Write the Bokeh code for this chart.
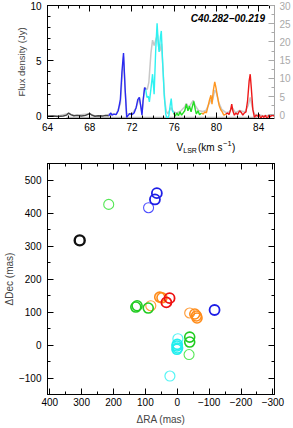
import numpy as np
from bokeh.plotting import figure
from bokeh.models import Range1d, LinearAxis, Label, FixedTicker, CustomJSTickFormatter
from bokeh.layouts import column
from bokeh.embed import file_html
from bokeh.resources import INLINE
from bokeh.core.properties import value

FONT = "Liberation Sans"
GREY = "#a9a9a9"

# ---------------- spectrum (top panel) ----------------
v_black = [64.0, 64.5, 65.0, 65.5, 65.8, 66.0, 66.2, 66.5, 66.8, 67.2, 67.6, 68.0, 68.2, 68.5, 68.8, 69.2, 69.5, 69.8]
f_black = [0.0, 0.02, -0.02, 0.03, 0.1, 0.3, 0.15, 0.05, 0.08, 0.02, 0.08, 0.25, 0.1, 0.0, 0.05, 0.02, 0.08, 0.05]

v_blue = [69.8, 70.0, 70.1, 70.3, 70.5, 70.7, 70.9, 71.05, 71.2, 71.35, 71.5, 71.65, 71.8, 72.0, 72.2, 72.4, 72.55, 72.7, 72.85, 72.95, 73.05, 73.2, 73.3]
f_blue = [0.05, 0.3, 0.1, 0.2, 0.15, 0.5, 1.5, 4.0, 5.7, 2.5, -0.1, 0.1, 0.25, 0.15, 0.3, 0.8, 1.5, 1.7, 0.8, 0.1, 1.4, 2.6, 2.4]

v_cyan = [73.3, 73.42, 73.55, 73.65, 73.8, 73.95, 74.1, 74.25, 74.38, 74.5, 74.57, 74.7, 74.78, 74.9, 75.05, 75.2, 75.35, 75.5, 75.62, 75.72, 75.82, 75.95]
f_cyan = [2.4, 1.7, 1.8, 1.3, 2.5, 3.8, 2.0, 6.0, 8.4, 6.5, 5.8, 7.2, 7.7, 5.0, 2.0, 0.2, -0.3, 0.1, 1.0, 1.6, 0.5, 0.3]

v_green = [75.95, 76.1, 76.25, 76.4, 76.55, 76.7, 76.85, 77.0, 77.15, 77.3, 77.45, 77.6, 77.75, 77.85, 78.0, 78.1, 78.25, 78.4, 78.6]
f_green = [0.3, 0.0, 0.3, 0.05, 0.4, 0.1, 0.3, 0.5, 1.1, 0.5, 0.9, 0.4, 1.0, 1.35, 0.6, 0.2, 0.5, 0.15, 0.3]

v_orange = [78.6, 78.75, 78.9, 79.05, 79.2, 79.35, 79.48, 79.58, 79.7, 79.84, 79.95, 80.1, 80.25, 80.4, 80.55, 80.7, 80.9]
f_orange = [0.3, 0.2, 0.4, 0.3, 0.9, 1.5, 1.9, 1.1, 2.3, 3.1, 2.6, 1.8, 1.0, 0.6, 0.4, 0.1, 0.2]

v_red = [80.9, 81.05, 81.2, 81.35, 81.45, 81.55, 81.7, 81.85, 82.0, 82.2, 82.35, 82.5, 82.65, 82.8, 82.95, 83.1, 83.2, 83.3, 83.45,
         83.6, 83.75, 83.9, 84.05, 84.2, 84.35, 84.5, 84.65, 84.8, 84.95, 85.1, 85.25, 85.4, 85.5]
f_red = [0.2, 0.3, 0.15, 0.6, 1.1, 0.5, 0.1, 0.3, 0.15, 0.5, 0.35, 0.1, 0.3, 0.4, 1.4, 3.2, 3.8, 2.6, 0.6,
         -0.1, 0.1, 0.0, 0.15, -0.2, 0.05, -0.1, 0.1, -0.3, 0.1, -0.05, 0.1, 0.05, 0.05]

# grey spectrum, right-hand axis (0-30)
v_grey = [64.0, 65.0, 66.0, 66.5, 68.0, 68.5, 69.5, 70.0, 70.5, 70.9, 71.2, 71.35, 71.5, 72.0, 72.4, 72.7, 72.95, 73.2,
          73.45, 73.6, 73.8, 73.95, 74.1, 74.3, 74.42, 74.55, 74.65, 74.8, 74.95, 75.1, 75.25, 75.4, 75.7, 75.9,
          76.2, 76.6, 77.0, 77.15, 77.3, 77.5, 77.8, 78.0, 78.3, 78.7, 79.0, 79.3, 79.5, 79.6, 79.85, 80.0, 80.2,
          80.5, 80.9, 81.2, 81.5, 81.8, 82.2, 82.7, 83.0, 83.2, 83.4, 83.6, 84.0, 84.5, 85.0, 85.5]
f_grey = [-0.3, -0.3, 0.4, -0.2, 0.3, -0.3, -0.2, 0.4, 0.1, 3.0, 16.0, 7.0, 0.3, 0.2, 2.0, 4.8, 0.5, 7.5,
          7.0, 9.0, 17.0, 20.5, 19.0, 21.0, 22.0, 18.0, 17.5, 19.5, 12.0, 4.0, 1.0, 0.3, 2.0, 1.0,
          0.5, 1.0, 2.2, 3.2, 2.2, 2.6, 4.0, 2.5, 1.2, 0.9, 1.2, 3.0, 4.2, 3.6, 6.8, 6.0, 3.5,
          1.5, 0.6, 0.8, 2.0, 0.6, 1.2, 0.8, 2.5, 4.8, 2.0, 0.2, 0.0, -0.3, -0.1, -0.2]

bar_v = [65.8, 83.9]
bar_f = [-0.1, -0.1]

source_name = "C40.282\u221200.219"
vel_ticks = [64, 68, 72, 76, 80, 84]
flux_ticks = [0, 5, 10]
grey_ticks = [0, 5, 10, 15, 20, 25, 30]

seg_colors = ["#454545", "#2a2af2", "#2ef2f2", "#22dd22", "#ff9620", "#ee1818"]

# ---------------- spot map (bottom panel) ----------------
black_ra, black_dec = [306], [317]
blue_ra, blue_dec = [64, 70, -117], [460, 441, 106]
lblue_ra, lblue_dec = [90], [416]
cyan_ra, cyan_dec = [0, 1, -1, 1], [2, -3, -9, -13]
lcyan_ra, lcyan_dec = [-2, 23], [19, -94]
green_ra, green_dec = [130, 126, 91, -39, -39], [115, 119, 112, 24, 9]
lgreen_ra, lgreen_dec = [215, -37], [426, -29]
orange_ra, orange_dec = [55, 48, -55, -60, -62], [145, 143, 94, 88, 82]
lorange_ra, lorange_dec = [83, -39], [119, 97]
red_ra, red_dec = [34, 24], [129, 142]

ra_ticks = [400, 300, 200, 100, 0, -100, -200, -300]
dec_ticks = [-100, 0, 100, 200, 300, 400, 500]

W = 293
LEFT, RIGHT = 41, 17


def tick_style(ax, color="black", labels=True):
    ax.axis_line_color = color
    ax.major_tick_line_color = color
    ax.minor_tick_line_color = color
    ax.major_tick_in = 6
    ax.major_tick_out = 0
    ax.minor_tick_in = 3
    ax.minor_tick_out = 0
    ax.axis_line_width = 1
    ax.major_label_text_font = FONT
    ax.major_label_text_font_size = "10px"
    ax.major_label_text_color = color
    ax.axis_label_text_font = FONT
    ax.axis_label_text_font_style = "normal"
    ax.axis_label_text_font_size = "10px"
    if not labels:
        ax.formatter = CustomJSTickFormatter(code="return ''")
        ax.major_label_text_font_size = "1px"
        ax.major_label_standoff = 0


# ---- top figure ----
p1 = figure(width=W, height=133, x_range=Range1d(64, 85.5), y_range=Range1d(-0.2, 10),
            output_backend="svg", toolbar_location=None,
            min_border_left=LEFT, min_border_right=RIGHT, min_border_top=5, min_border_bottom=15)
p1.extra_y_ranges = {"grey": Range1d(-1, 30)}
p1.outline_line_color = None
p1.xgrid.visible = False
p1.ygrid.visible = False

minor_v = list(np.arange(64, 86, 1.0))
p1.xaxis.ticker = FixedTicker(ticks=vel_ticks, minor_ticks=minor_v)
tick_style(p1.xaxis[0])
p1.xaxis.major_label_standoff = 4
p1.yaxis.ticker = FixedTicker(ticks=flux_ticks, minor_ticks=list(np.arange(0, 10.5, 1.0)))
tick_style(p1.yaxis[0])
p1.yaxis.major_label_standoff = 6
p1.yaxis.axis_label = "Flux density (Jy)"
p1.yaxis.axis_label_text_font_size = "9.5px"
p1.yaxis.axis_label_standoff = 0

top1 = LinearAxis(ticker=FixedTicker(ticks=vel_ticks, minor_ticks=minor_v))
tick_style(top1, labels=False)
p1.add_layout(top1, "above")

right1 = LinearAxis(y_range_name="grey",
                    ticker=FixedTicker(ticks=grey_ticks, minor_ticks=list(np.arange(0, 30.1, 2.5))))
tick_style(right1, color=GREY)
right1.major_label_standoff = 5
p1.add_layout(right1, "right")

p1.line(v_grey, f_grey, y_range_name="grey", line_color="#c8c8c8", line_width=1.5)
p1.line(bar_v, bar_f, line_color="#b4b4b4", line_width=1.5)
for vv, ff, cc in zip([v_black, v_blue, v_cyan, v_green, v_orange, v_red],
                      [f_black, f_blue, f_cyan, f_green, f_orange, f_red], seg_colors):
    p1.line(vv, ff, line_color=cc, line_width=1.4)

p1.add_layout(Label(x=84.6, y=8.8, text=source_name, text_align="right", text_baseline="middle",
                    text_font=FONT, text_font_size="10px", text_font_style="bold italic",
                    text_color="black"))

# ---- strip with the velocity-axis title  V_LSR (km s^-1) ----
LH = 25
pl = figure(frame_width=W, frame_height=LH, x_range=Range1d(0, W), y_range=Range1d(0, LH),
            x_axis_type=None, y_axis_type=None, output_backend="svg", toolbar_location=None,
            min_border_left=0, min_border_right=0, min_border_top=0, min_border_bottom=0)
pl.outline_line_color = None
pl.grid.visible = False
# (text, font size px, horizontal offset px from start, vertical shift px)
pieces = [("V", 10, 0, 0), ("LSR", 7, 6.8, -3), ("(km", 10, 21.5, 0), ("s", 10, 41, 0),
          ("\u22121", 7.5, 46.5, 4), (")", 10, 55.5, 0)]
start = (LEFT + (W - RIGHT)) / 2 - 29.5
for t, s, dx, dy in pieces:
    pl.text(x=[start + dx], y=[11 + dy], text=[t], text_align="left", text_baseline="middle",
            text_font=value(FONT), text_font_size=value(f"{s}px"), text_color="black")

# ---- bottom figure ----
p2 = figure(width=W, height=269, x_range=Range1d(407, -305), y_range=Range1d(-150, 550),
            output_backend="svg", toolbar_location=None,
            min_border_left=LEFT, min_border_right=RIGHT, min_border_top=5, min_border_bottom=31)
p2.outline_line_color = "black"
p2.xgrid.visible = False
p2.ygrid.visible = False

rt = dict(ticks=ra_ticks, minor_ticks=list(np.arange(-300, 401, 50)))
dt = dict(ticks=dec_ticks, minor_ticks=list(np.arange(-150, 551, 50)))
p2.xaxis.ticker = FixedTicker(**rt)
tick_style(p2.xaxis[0])
p2.xaxis.major_label_standoff = 3
p2.xaxis.axis_label = "\u0394RA (mas)"
p2.xaxis.axis_label_standoff = 5
p2.xaxis.major_label_overrides = {t: str(t).replace("-", "\u2212") for t in ra_ticks if t < 0}
p2.yaxis.ticker = FixedTicker(**dt)
tick_style(p2.yaxis[0])
p2.yaxis.major_label_standoff = 6
p2.yaxis.axis_label = "\u0394Dec (mas)"
p2.yaxis.axis_label_standoff = 1
p2.yaxis.major_label_overrides = {t: str(t).replace("-", "\u2212") for t in dec_ticks if t < 0}

top2 = LinearAxis(ticker=FixedTicker(**rt))
tick_style(top2, labels=False)
p2.add_layout(top2, "above")
right2 = LinearAxis(ticker=FixedTicker(**dt))
tick_style(right2, labels=False)
p2.add_layout(right2, "right")

groups = [
    (lgreen_ra, lgreen_dec, "#55e855", 1.1),
    (lblue_ra, lblue_dec, "#5050ff", 1.1),
    (lcyan_ra, lcyan_dec, "#55f5f5", 1.2),
    (lorange_ra, lorange_dec, "#ffa040", 1.2),
    (green_ra, green_dec, "#22cc22", 1.6),
    (orange_ra, orange_dec, "#ff8c1a", 1.6),
    (red_ra, red_dec, "#ee1111", 1.8),
    (cyan_ra, cyan_dec, "#22eeee", 1.6),
    (blue_ra, blue_dec, "#1e1ee6", 1.8),
    (black_ra, black_dec, "#111111", 2.4),
]
for ra, dec, col, lw in groups:
    p2.scatter(ra, dec, marker="circle", size=10, fill_color=None, line_color=col, line_width=lw)

layout = column(p1, pl, p2, spacing=0)
open("out.html", "w").write(file_html(layout, INLINE))
